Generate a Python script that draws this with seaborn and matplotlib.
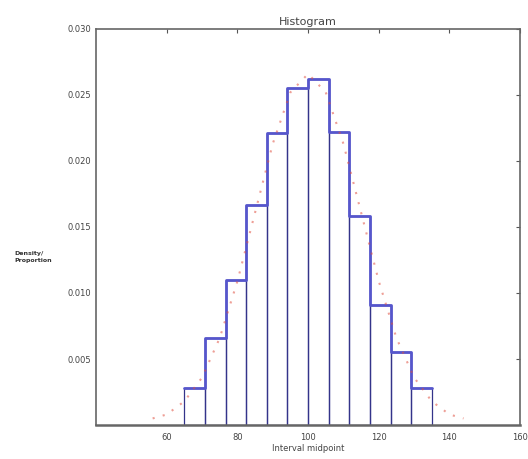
import numpy as np
import pandas as pd
import matplotlib.pyplot as plt
import seaborn as sns

# bin edges (65 to 135, 12 bins) and density heights
bin_edges = [65.0, 70.83, 76.67, 82.5, 88.33, 94.17, 100.0, 105.83, 111.67, 117.5, 123.33, 129.17, 135.0]
bin_density = [0.0028, 0.0066, 0.0110, 0.0167, 0.0221, 0.0255, 0.0262, 0.0222, 0.0158, 0.0091, 0.0055, 0.0028]

# dotted reference curve
curve_x = [56, 60, 65, 70, 75, 80, 85, 90, 95, 100, 105, 110, 115, 120, 125, 130, 135, 140, 144]
curve_y = [0.0005, 0.0008, 0.0018, 0.0036, 0.0066, 0.0109, 0.0161, 0.0213, 0.0252, 0.0266,
           0.0252, 0.0213, 0.0161, 0.0109, 0.0066, 0.0036, 0.0018, 0.0008, 0.0005]

x_ticks = [60, 80, 100, 120, 140, 160]
y_ticks = [0.005, 0.010, 0.015, 0.020, 0.025, 0.030]

mids = [(bin_edges[i] + bin_edges[i + 1]) / 2 for i in range(len(bin_density))]
df = pd.DataFrame({'mid': mids, 'density': bin_density})
curve = pd.DataFrame({'x': curve_x, 'y': curve_y})

sns.set_style('white')
fig = plt.figure(figsize=(5.28, 4.59), dpi=100)
ax = fig.add_axes([0.182, 0.074, 0.803, 0.863])

# thin bar outlines
sns.histplot(data=df, x='mid', weights='density', bins=bin_edges, stat='count',
             element='bars', fill=False, color='#34348a', linewidth=0.9, ax=ax)
# thick step outline
sns.histplot(data=df, x='mid', weights='density', bins=bin_edges, stat='count',
             element='step', fill=False, color='#5656cc', linewidth=2.0, ax=ax)
# dotted curve
sns.lineplot(data=curve, x='x', y='y', color='#e05040', linestyle=(0, (1, 4)),
             linewidth=1.5, alpha=0.55, ax=ax)

ax.set_xlim(40, 160)
ax.set_ylim(0, 0.030)
ax.set_xticks(x_ticks)
ax.set_yticks(y_ticks)
ax.set_xticklabels([str(t) for t in x_ticks])
ax.set_yticklabels(['%.3f' % t for t in y_ticks])
ax.tick_params(direction='in', length=3, width=0.8, labelsize=6, colors='#555555',
               top=True, right=True, labelcolor='#444444')
ax.tick_params(axis='x', pad=6)
for s in ax.spines.values():
    s.set_color('#666666')
    s.set_linewidth(1.2)
ax.spines['bottom'].set_linewidth(1.8)

ax.set_title('Histogram', fontsize=8, color='#444444', pad=3)
ax.set_xlabel('Interval midpoint', fontsize=6, color='#444444', labelpad=1)
ax.set_ylabel('')
fig.text(0.028, 0.44, 'Density/\nProportion', fontsize=4.5, fontweight='bold',
         color='#333333', ha='left', va='center', linespacing=1.6)

plt.savefig('out.png', dpi=100)
